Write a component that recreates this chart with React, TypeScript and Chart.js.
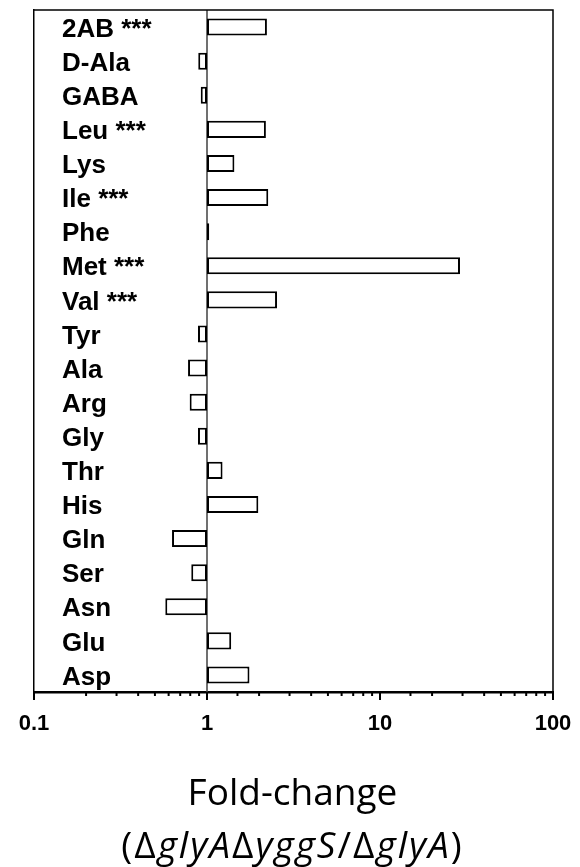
import React, { useEffect, useRef } from "react";
import { Chart, registerables } from "chart.js";

Chart.register(...registerables);

const categories = [
  "2AB ***", "D-Ala", "GABA", "Leu ***", "Lys", "Ile ***", "Phe", "Met ***", "Val ***", "Tyr",
  "Ala", "Arg", "Gly", "Thr", "His", "Gln", "Ser", "Asn", "Glu", "Asp",
];
const foldChange = [
  2.22, 0.89, 0.92, 2.19, 1.44, 2.26, 1.03, 29.0, 2.54, 0.887,
  0.777, 0.794, 0.887, 1.23, 1.98, 0.628, 0.811, 0.574, 1.38, 1.76,
];
const baseline = 1;
const xTickLabels = [0.1, 1, 10, 100];
const titleLine1 = "Fold-change";
const titleLine2: [string, boolean][] = [
  ["(", false], ["\u0394", false], ["glyA", true], ["\u0394", false], ["yggS", true],
  ["/", false], ["\u0394", false], ["glyA", true], [")", false],
];

const isMajor = (v: number) => xTickLabels.some((t) => Math.abs(t - v) / t < 1e-6);

const framePlugin = {
  id: "frameAndTicks",
  beforeDatasetsDraw(chart: any) {
    const { ctx, chartArea } = chart;
    const x = chart.scales.x.getPixelForValue(baseline);
    ctx.save();
    ctx.strokeStyle = "#404040";
    ctx.lineWidth = 1.5;
    ctx.beginPath();
    ctx.moveTo(x, chartArea.top);
    ctx.lineTo(x, chartArea.bottom);
    ctx.stroke();
    ctx.restore();
  },
  afterDraw(chart: any) {
    const { ctx, chartArea } = chart;
    const xs = chart.scales.x;
    ctx.save();
    ctx.strokeStyle = "#000";
    ctx.lineWidth = 1.5;
    ctx.beginPath();
    ctx.moveTo(chartArea.left, chartArea.top);
    ctx.lineTo(chartArea.right, chartArea.top);
    ctx.lineTo(chartArea.right, chartArea.bottom);
    ctx.stroke();
    ctx.lineWidth = 2;
    xs.ticks.forEach((t: any) => {
      const px = xs.getPixelForValue(t.value);
      const len = isMajor(t.value) ? 8 : 4;
      ctx.beginPath();
      ctx.moveTo(px, chartArea.bottom);
      ctx.lineTo(px, chartArea.bottom + len);
      ctx.stroke();
    });
    const cx = (chartArea.left + chartArea.right) / 2 - 1;
    ctx.fillStyle = "#000";
    ctx.textBaseline = "alphabetic";
    ctx.textAlign = "left";
    const fontN = "37px 'Open Sans'";
    const fontI = "italic 37px 'Open Sans'";
    ctx.font = fontN;
    const w1 = ctx.measureText(titleLine1).width;
    ctx.fillText(titleLine1, cx - w1 / 2, 805);
    (ctx as any).letterSpacing = "2px";
    let total = 0;
    titleLine2.forEach(([s, it]) => {
      ctx.font = it ? fontI : fontN;
      total += ctx.measureText(s).width;
    });
    let px = cx - total / 2;
    titleLine2.forEach(([s, it]) => {
      ctx.font = it ? fontI : fontN;
      ctx.fillText(s, px, 858);
      px += ctx.measureText(s).width;
    });
    ctx.restore();
  },
};

export default function App() {
  const ref = useRef<HTMLCanvasElement>(null);
  useEffect(() => {
    document.body.style.margin = "0";
    const chart = new Chart(ref.current!, {
      type: "bar",
      data: {
        labels: categories,
        datasets: [
          {
            data: foldChange.map((v) => [baseline, v]) as any,
            backgroundColor: "#ffffff",
            borderColor: "#000000",
            borderWidth: 2,
            borderSkipped: false,
            categoryPercentage: 1,
            barPercentage: 0.5,
          },
        ],
      },
      options: {
        indexAxis: "y",
        animation: false,
        responsive: false,
        layout: { padding: { left: 34, right: 27, top: 10, bottom: 0 } },
        plugins: { legend: { display: false }, tooltip: { enabled: false }, title: { display: false } },
        scales: {
          x: {
            type: "logarithmic",
            min: 0.1,
            max: 100,
            grid: { display: false, drawTicks: false },
            border: { display: true, color: "#000", width: 2.5 },
            ticks: {
              autoSkip: false,
              maxRotation: 0,
              padding: 19,
              color: "#000",
              font: { family: "'Liberation Sans', Arial, sans-serif", size: 22, weight: "bold" },
              callback: (v: any) => (isMajor(Number(v)) ? String(Number(v)) : ""),
            },
            afterFit: (scale: any) => {
              scale.height = 175;
              scale.paddingLeft = 0;
              scale.paddingRight = 0;
            },
          },
          y: {
            type: "category",
            grid: { display: false, drawTicks: false },
            border: { display: true, color: "#000", width: 1.5 },
            ticks: {
              mirror: true,
              autoSkip: false,
              padding: 28,
              color: "#000",
              font: { family: "'Liberation Sans', Arial, sans-serif", size: 26, weight: "bold", lineHeight: "5px" },
              callback: function (this: any, v: any) {
                return ["", this.getLabelForValue(Number(v))];
              },
            },
            afterFit: (scale: any) => {
              scale.width = 0;
              scale.paddingTop = 0;
              scale.paddingBottom = 0;
            },
          },
        },
      },
      plugins: [framePlugin],
    });
    return () => chart.destroy();
  }, []);
  return (
    <div style={{ width: 580, height: 867 }}>
      <canvas ref={ref} width={580} height={867} />
    </div>
  );
}
